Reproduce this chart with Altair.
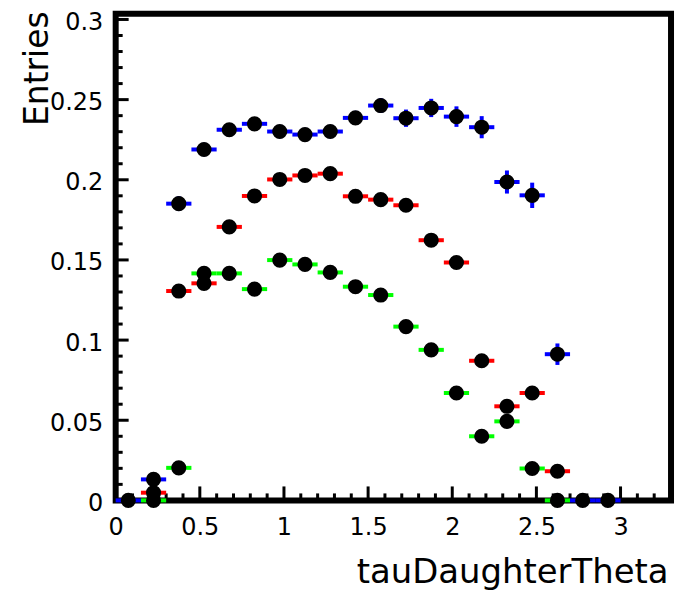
import altair as alt
import pandas as pd

# ---- data ----
bin_centers = [0.075, 0.225, 0.375, 0.525, 0.675, 0.825, 0.975, 1.125, 1.275, 1.425,
               1.575, 1.725, 1.875, 2.025, 2.175, 2.325, 2.475, 2.625, 2.775, 2.925]
half_bin = 0.075

blue_vals = [0.0, 0.0131, 0.1851, 0.2189, 0.2312, 0.2349, 0.2301, 0.2282, 0.2301, 0.2386,
             0.2463, 0.2384, 0.2448, 0.2394, 0.2328, 0.1986, 0.1903, 0.0912, 0.0, 0.0]
blue_errs = [0.0, 0.003, 0.0046, 0.0042, 0.0042, 0.0042, 0.0042, 0.0042, 0.0042, 0.0044,
             0.0046, 0.0054, 0.0057, 0.0064, 0.0069, 0.0072, 0.0079, 0.0067, 0.0, 0.0]

red_vals = [None, 0.0048, 0.1306, 0.1354, 0.1706, 0.1899, 0.2002, 0.2027, 0.2038, 0.1897,
            0.1876, 0.1841, 0.1623, 0.1484, 0.0871, 0.0587, 0.0670, 0.0182, None, None]
red_errs = [None, 0.002, 0.003, 0.003, 0.003, 0.003, 0.003, 0.003, 0.003, 0.003,
            0.003, 0.003, 0.003, 0.003, 0.003, 0.003, 0.003, 0.002, None, None]

green_vals = [None, 0.0, 0.0203, 0.1416, 0.1416, 0.1318, 0.1499, 0.1472, 0.1422, 0.1333,
              0.1281, 0.1084, 0.0939, 0.0670, 0.0400, 0.0493, 0.0199, 0.0, None, None]
green_errs = [None, 0.0, 0.002, 0.003, 0.003, 0.003, 0.003, 0.003, 0.003, 0.003,
              0.003, 0.003, 0.003, 0.003, 0.003, 0.003, 0.002, 0.0, None, None]

series_names = ["green", "red", "blue"]
series_colors = ["#00ff00", "#ff0000", "#0000ff"]

x_major = [0, 0.5, 1, 1.5, 2, 2.5, 3]
x_minor = [0.1, 0.2, 0.3, 0.4, 0.6, 0.7, 0.8, 0.9, 1.1, 1.2, 1.3, 1.4, 1.6, 1.7, 1.8, 1.9,
           2.1, 2.2, 2.3, 2.4, 2.6, 2.7, 2.8, 2.9, 3.1, 3.2]
y_major = [0, 0.05, 0.1, 0.15, 0.2, 0.25, 0.3]
y_minor = [0.01, 0.02, 0.03, 0.04, 0.06, 0.07, 0.08, 0.09, 0.11, 0.12, 0.13, 0.14,
           0.16, 0.17, 0.18, 0.19, 0.21, 0.22, 0.23, 0.24, 0.26, 0.27, 0.28, 0.29]

# ---- build table ----
rows = []
for name, vals, errs in [("green", green_vals, green_errs),
                         ("red", red_vals, red_errs),
                         ("blue", blue_vals, blue_errs)]:
    for xc, v, e in zip(bin_centers, vals, errs):
        if v is None:
            continue
        rows.append({"series": name, "x": xc, "x_lo": xc - half_bin, "x_hi": xc + half_bin,
                     "y": v, "y_lo": v - e, "y_hi": v + e})
df = pd.DataFrame(rows)

W, H = 557, 488
xscale = alt.Scale(domain=[0, 3.3], nice=False, zero=False)
yscale = alt.Scale(domain=[0, 0.3035], nice=False, zero=False)
cscale = alt.Scale(domain=series_names, range=series_colors)

FONT = "DejaVu Sans"

xaxis = alt.Axis(values=x_major, format="~g", ticks=False, domain=False, grid=False,
                 labelFlush=False, labelOverlap=False,
                 labelFont=FONT, labelFontSize=24, labelColor="black", labelPadding=15,
                 title="tauDaughterTheta", titleFont=FONT, titleFontSize=34,
                 titleFontWeight="normal", titleColor="black", titleAlign="right",
                 titleAnchor="end", titleBaseline="alphabetic", titleX=554, titleY=82)
yaxis = alt.Axis(values=y_major, format="~g", ticks=False, domain=False, grid=False,
                 labelFlush=False, labelOverlap=False,
                 labelFont=FONT, labelFontSize=24, labelColor="black", labelPadding=13,
                 labelOffset=3,
                 title="Entries", titleFont=FONT, titleFontSize=33,
                 titleFontWeight="normal", titleColor="black", titleAngle=270,
                 titleAlign="right", titleBaseline="alphabetic", titleX=-68, titleY=-3)

base = alt.Chart(df)

hbars = base.mark_rule(strokeWidth=4).encode(
    x=alt.X("x_lo:Q", scale=xscale, axis=xaxis),
    x2="x_hi:Q",
    y=alt.Y("y:Q", scale=yscale, axis=yaxis),
    color=alt.Color("series:N", scale=cscale, legend=None),
)
vbars = base.mark_rule(strokeWidth=4).encode(
    x=alt.X("x:Q", scale=xscale),
    y=alt.Y("y_lo:Q", scale=yscale),
    y2="y_hi:Q",
    color=alt.Color("series:N", scale=cscale, legend=None),
)
dots = base.mark_circle(size=230, color="black", opacity=1).encode(
    x=alt.X("x:Q", scale=xscale),
    y=alt.Y("y:Q", scale=yscale),
)

# inward ticks
xt_major = alt.Chart(pd.DataFrame({"t": x_major})).mark_rule(color="black", strokeWidth=3).encode(
    x=alt.X("t:Q", scale=xscale), y=alt.value(H), y2=alt.value(H - 14))
xt_minor = alt.Chart(pd.DataFrame({"t": x_minor})).mark_rule(color="black", strokeWidth=3).encode(
    x=alt.X("t:Q", scale=xscale), y=alt.value(H), y2=alt.value(H - 7))
yt_major = alt.Chart(pd.DataFrame({"t": y_major})).mark_rule(color="black", strokeWidth=3).encode(
    y=alt.Y("t:Q", scale=yscale), x=alt.value(0), x2=alt.value(13))
yt_minor = alt.Chart(pd.DataFrame({"t": y_minor})).mark_rule(color="black", strokeWidth=3).encode(
    y=alt.Y("t:Q", scale=yscale), x=alt.value(0), x2=alt.value(7))

chart = alt.layer(xt_major, xt_minor, yt_major, yt_minor, hbars, vbars, dots).properties(
    width=W, height=H,
    background="white",
    padding={"left": 108, "top": 5, "right": 8, "bottom": 90},
    autosize="none",
).configure_view(
    stroke="black", strokeWidth=6, fill="white"
)

chart.save("out.html", embed_options={"renderer": "svg", "actions": False})
